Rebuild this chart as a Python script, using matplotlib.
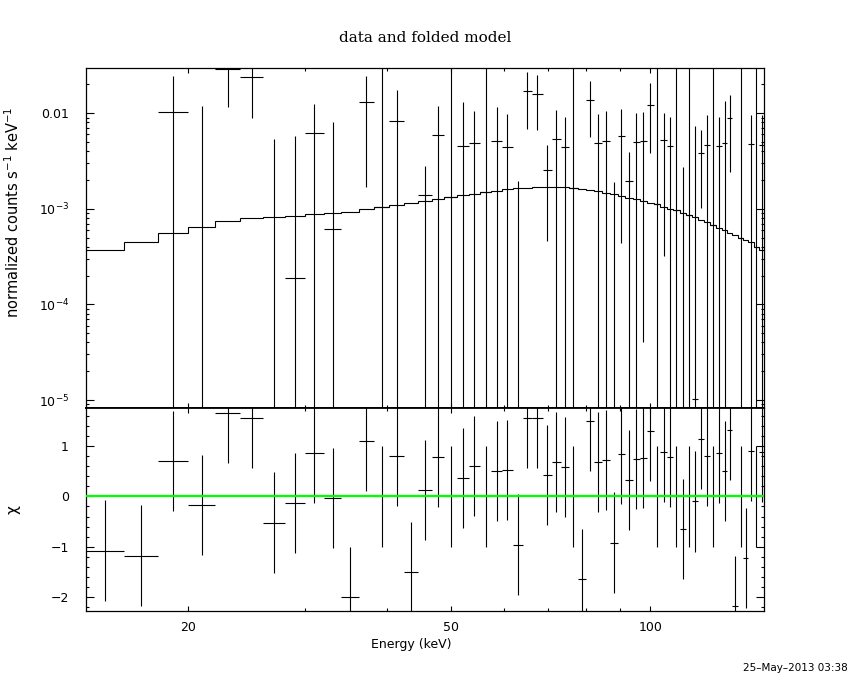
import matplotlib
matplotlib.use("Agg")
import matplotlib.pyplot as plt
import numpy as np
from matplotlib.ticker import FixedLocator, NullFormatter, MultipleLocator, LogLocator

# channel edges (keV)
edges = [14, 16, 18, 20, 22, 24, 26, 28, 30, 32.1, 34.1, 36.2, 38.2, 40.3, 42.4,
         44.5, 46.7, 48.8, 51.0, 53.1, 55.3, 57.5, 59.6, 61.9, 64.1, 66.2, 68.7,
         71.0, 73.2, 75.4, 77.6, 79.9, 82.3, 84.6, 86.9, 89.2, 91.5, 94.0, 96.4,
         98.7, 101.1, 103.5, 105.9, 108.2, 110.7, 113.2, 115.6, 118.1, 120.6,
         123.1, 125.8, 128.3, 130.7, 133.1, 135.6, 138.2, 140.7, 143.3, 145.9, 148.7]

# data: normalized counts s^-1 keV^-1
rate = [-6.09e-3, -5.42e-3, 1.02e-2, -1.57e-3, 2.90e-2, 2.39e-2, -4.15e-3, 1.89e-4,
        6.22e-3, 6.14e-4, -9.1e-3, 1.30e-2, 1.04e-3, 8.24e-3, -6.41e-3, 1.39e-3,
        5.88e-3, 1.33e-3, 4.55e-3, 4.90e-3, 1.49e-3, 5.06e-3, 4.41e-3, -5.44e-3,
        1.70e-2, 1.59e-2, 2.56e-3, 5.35e-3, 4.41e-3, 1.66e-3, -6.63e-3, 1.38e-2,
        4.90e-3, 5.14e-3, -3.99e-3, 5.74e-3, 1.93e-3, 5.01e-3, 5.14e-3, 1.22e-2,
        1.12e-3, 5.22e-3, 4.55e-3, 9.6e-4, -2.55e-3, 8.6e-4, 1.03e-5, 3.82e-3,
        4.63e-3, 6.8e-4, 4.55e-3, 4.90e-3, 8.93e-3, -1.04e-2, 4.95e-4, -5.7e-3,
        4.74e-3, 4.0e-4, 4.7e-3]
rate_err = [6.0e-3, 5.0e-3, 1.45e-2, 1.34e-2, 1.75e-2, 1.51e-2, 9.5e-3, 5.6e-3,
            6.4e-3, 7.5e-3, 5.0e-3, 1.13e-2, 5e-2, 9.1e-3, 5.0e-3, 1.42e-3,
            6.0e-3, 5e-2, 8.6e-3, 5.7e-3, 5e-2, 6.6e-3, 5.4e-3, 7.4e-3,
            1.01e-2, 9.3e-3, 2.1e-3, 5.5e-3, 4.7e-3, 5e-2, 5.0e-3, 8.1e-3,
            4.9e-3, 5.3e-3, 5.9e-3, 5.3e-3, 2.0e-3, 5.15e-3, 5.1e-3, 8.4e-3,
            5e-2, 4.9e-3, 4.6e-3, 5e-2, 5.3e-3, 5e-2, 7.4e-3, 2.8e-3,
            5.0e-3, 5e-2, 4.6e-3, 8.5e-3, 6.5e-3, 5.0e-3, 5e-2, 5.0e-3,
            4.9e-3, 5e-2, 4.9e-3]

# folded model
model = [3.70e-4, 4.52e-4, 5.52e-4, 6.43e-4, 7.38e-4, 8.05e-4, 8.20e-4, 8.37e-4, 8.79e-4, 8.93e-4,
         9.23e-4, 9.87e-4, 1.04e-3, 1.09e-3, 1.15e-3, 1.21e-3, 1.26e-3, 1.33e-3, 1.38e-3, 1.44e-3,
         1.49e-3, 1.55e-3, 1.60e-3, 1.64e-3, 1.67e-3, 1.69e-3, 1.70e-3, 1.69e-3, 1.68e-3, 1.66e-3,
         1.62e-3, 1.58e-3, 1.52e-3, 1.47e-3, 1.42e-3, 1.36e-3, 1.31e-3, 1.26e-3, 1.20e-3, 1.16e-3,
         1.12e-3, 1.05e-3, 1.00e-3, 9.6e-4, 9.1e-4, 8.6e-4, 8.2e-4, 7.6e-4, 7.2e-4, 6.8e-4,
         6.3e-4, 6.0e-4, 5.6e-4, 5.3e-4, 4.95e-4, 4.7e-4, 4.45e-4, 4.0e-4, 3.75e-4]

# residuals
chi = [-1.08, -1.18, 0.71, -0.17, 1.66, 1.56, -0.52, -0.13, 0.87, -0.03,
       -2.01, 1.10, 0.0, 0.81, -1.51, 0.13, 0.79, 0.0, 0.37, 0.61,
       0.0, 0.51, 0.53, -0.96, 1.56, 1.56, 0.43, 0.69, 0.59, 0.0,
       -1.65, 1.50, 0.69, 0.73, -0.92, 0.85, 0.33, 0.75, 0.77, 1.30,
       0.0, 0.88, 0.79, 0.0, -0.65, 0.0, -0.10, 1.14, 0.81, 0.0,
       0.87, 0.51, 1.32, -2.19, 0.0, -1.23, 0.90, 0.0, 0.88]

plt.rcParams['font.family'] = ['DejaVu Sans']
plt.rcParams['mathtext.default'] = 'regular'

e = np.array(edges)
lo, hi = e[:-1], e[1:]
ctr = (lo + hi) / 2
r = np.array(rate)
s = np.array(rate_err)
c = np.array(chi)

fig = plt.figure(figsize=(8.5, 6.8), dpi=100)
ax1 = fig.add_axes([0.1008, 0.4, 0.7984, 0.4996])
ax2 = fig.add_axes([0.1008, 0.1015, 0.7984, 0.2985])

# upper panel
up = r + s
vis = up > 0
ax1.vlines(ctr[vis], np.maximum(r - s, 1e-9)[vis], up[vis], color='k', lw=0.8)
pos = r > 0
ax1.hlines(r[pos], lo[pos], hi[pos], color='k', lw=0.8)
ax1.stairs(model, edges, color='k', lw=0.8, baseline=None)

ax1.set_xscale('log')
ax1.set_yscale('log')
ax1.set_xlim(14, 148.7)
ax1.set_ylim(8.25e-6, 0.0295)
ax1.yaxis.set_major_locator(FixedLocator([1e-5, 1e-4, 1e-3, 1e-2]))
ax1.set_yticklabels(['$10^{-5}$', '$10^{-4}$', '$10^{-3}$', '0.01'])
ax1.yaxis.set_minor_locator(LogLocator(base=10, subs=np.arange(2, 10)))
ax1.yaxis.set_minor_formatter(NullFormatter())

# lower panel
ax2.hlines(c, lo, hi, color='k', lw=0.8)
ax2.vlines(ctr, c - 1, c + 1, color='k', lw=0.8)
ax2.axhline(0, color='#00ff00', lw=1.6, zorder=3)
ax2.set_xscale('log')
ax2.set_xlim(14, 148.7)
ax2.set_ylim(-2.28, 1.76)
ax2.yaxis.set_major_locator(FixedLocator([-2, -1, 0, 1]))
ax2.set_yticklabels(['\u22122', '\u22121', '0', '1'])
ax2.yaxis.set_minor_locator(MultipleLocator(0.2))

for ax in (ax1, ax2):
    ax.xaxis.set_major_locator(FixedLocator([20, 50, 100]))
    ax.xaxis.set_minor_locator(FixedLocator([30, 40, 60, 70, 80, 90]))
    ax.xaxis.set_minor_formatter(NullFormatter())
    ax.tick_params(which='both', direction='in', top=True, right=True,
                   labelsize=9, color='k', width=0.8)
    ax.tick_params(axis='x', which='major', length=3.6)
    ax.tick_params(axis='x', which='minor', length=2.2)
    ax.tick_params(axis='y', which='major', length=5.5, pad=12)
    ax.tick_params(axis='y', which='minor', length=2.2)
    for sp in ax.spines.values():
        sp.set_linewidth(0.9)

ax1.tick_params(labelbottom=False)
ax1.spines['bottom'].set_linewidth(1.3)
ax2.spines['top'].set_linewidth(1.3)
ax2.set_xticklabels(['20', '50', '100'])
ax2.tick_params(axis='x', pad=7)
ax2.set_xlabel('Energy (keV)', fontsize=9, labelpad=2)
ax2.xaxis.set_label_coords((411 - 85.7) / 678.6, -0.135)

fig.text(0.5, 1 - 38 / 680, 'data and folded model', family='DejaVu Serif',
         fontsize=11, ha='center', va='center')
fig.text(13 / 850, 1 - 212 / 680, 'normalized counts s$^{-1}$ keV$^{-1}$',
         rotation=90, ha='center', va='center', fontsize=10.5)
fig.text(13 / 850, 1 - 510 / 680, '\u03c7', rotation=90, ha='center',
         va='center', fontsize=11)
fig.text(848 / 850, 1 - 668 / 680, '25\u2013May\u20132013 03:38', ha='right',
         va='center', fontsize=7.5)

fig.savefig('out.png', dpi=100)
